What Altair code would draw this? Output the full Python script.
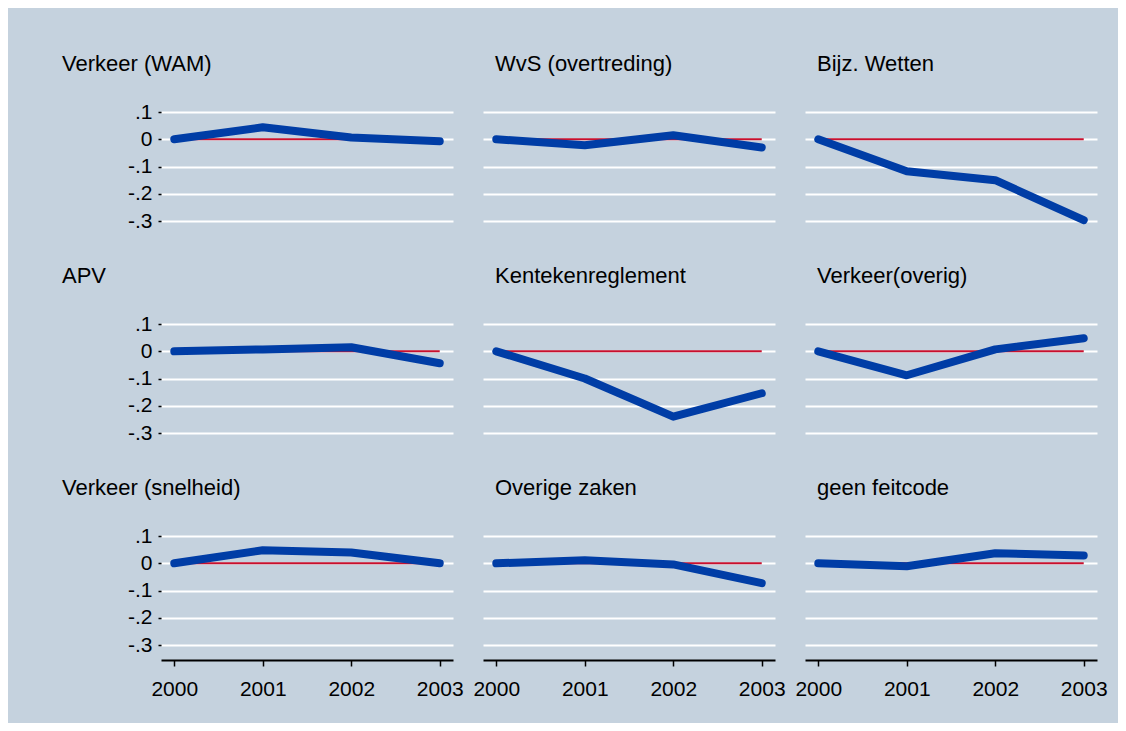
import altair as alt
import pandas as pd

FONT = "Liberation Sans"
BG = "#c5d2de"
BLUE = "#003da6"
RED = "#c8102e"

years = [2000, 2001, 2002, 2003]
y_ticks = [-0.3, -0.2, -0.1, 0, 0.1]

panel_titles = [
    "Verkeer (WAM)", "WvS (overtreding)", "Bijz. Wetten",
    "APV", "Kentekenreglement", "Verkeer(overig)",
    "Verkeer (snelheid)", "Overige zaken", "geen feitcode",
]

verkeer_wam = [0, 0.044, 0.007, -0.007]
wvs_overtreding = [0, -0.022, 0.015, -0.03]
bijz_wetten = [0, -0.117, -0.15, -0.297]
apv = [0, 0.007, 0.015, -0.044]
kentekenreglement = [0, -0.1, -0.24, -0.154]
verkeer_overig = [0, -0.088, 0.007, 0.048]
verkeer_snelheid = [0, 0.048, 0.04, 0]
overige_zaken = [0, 0.011, -0.004, -0.073]
geen_feitcode = [0, -0.011, 0.037, 0.029]

series = [
    verkeer_wam, wvs_overtreding, bijz_wetten,
    apv, kentekenreglement, verkeer_overig,
    verkeer_snelheid, overige_zaken, geen_feitcode,
]

label_expr = ("datum.value == 0 ? '0' : (datum.value < 0 ? '-' : '') + '.' + "
              "format(abs(datum.value) * 10, '.0f')")

xscale = alt.Scale(domain=[1999.85, 2003.15], nice=False, zero=False)
yscale = alt.Scale(domain=[-0.355, 0.159], nice=False, zero=False)


def make_panel(i, title, values):
    row, col = divmod(i, 3)
    df = pd.DataFrame({"year": years, "value": values})
    ref = pd.DataFrame({"start": [years[0]], "end": [years[-1]], "zero": [0]})

    if row == 2:
        xaxis = alt.Axis(values=years, format="d", title=None, grid=False,
                         domain=True, domainColor="black", domainWidth=2,
                         ticks=True, tickColor="black", tickSize=6, tickWidth=1.5,
                         labelFontSize=21, labelPadding=12, labelFont=FONT,
                         labelColor="black", labelFlush=False)
    else:
        xaxis = None

    if col == 0:
        yaxis = alt.Axis(values=y_ticks, labelExpr=label_expr, title=None,
                         grid=True, gridColor="white", gridWidth=2, domain=False,
                         ticks=True, tickSize=3, tickColor="black", tickWidth=1.5,
                         labelPadding=6, labelFontSize=21, labelFont=FONT,
                         labelColor="black")
    else:
        yaxis = alt.Axis(values=y_ticks, labels=False, ticks=False, domain=False,
                         title=None, grid=True, gridColor="white", gridWidth=2)

    rule = alt.Chart(ref).mark_rule(color=RED, strokeWidth=2).encode(
        x=alt.X("start:Q", scale=xscale, axis=xaxis),
        x2="end:Q",
        y=alt.Y("zero:Q", scale=yscale, axis=yaxis),
    )
    line = alt.Chart(df).mark_line(
        color=BLUE, strokeWidth=8, strokeCap="round", strokeJoin="round"
    ).encode(
        x=alt.X("year:Q", scale=xscale, axis=xaxis),
        y=alt.Y("value:Q", scale=yscale, axis=yaxis),
    )
    dx = -99 if col == 0 else 12
    return alt.layer(rule, line).properties(
        width=292, height=140,
        title=alt.TitleParams(text=title, anchor="start", frame="group", dx=dx,
                              offset=3, fontSize=22, font=FONT,
                              fontWeight="normal", color="black",
                              baseline="alphabetic"),
    )


panels = [make_panel(i, t, v) for i, (t, v) in enumerate(zip(panel_titles, series))]

chart = alt.concat(
    *panels, columns=3, spacing={"row": 72, "column": 30}, bounds="flush"
).properties(
    background=BG,
    padding={"left": 54, "top": 45, "right": 10, "bottom": 24},
).configure_view(stroke=None)

chart.save("out.html", embed_options={"renderer": "svg", "actions": False})
